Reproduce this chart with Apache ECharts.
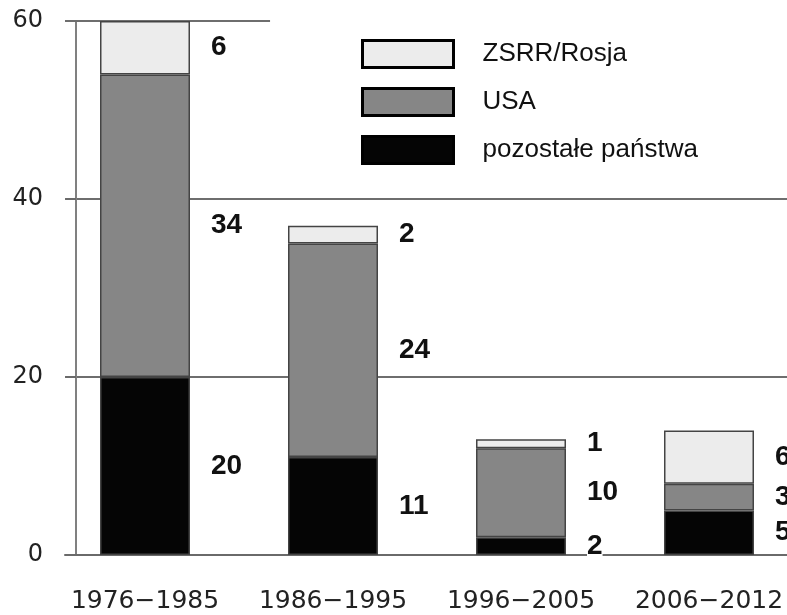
<!DOCTYPE html>
<html>
<head>
<meta charset="utf-8">
<script src="https://cdn.jsdelivr.net/npm/echarts@6/dist/echarts.min.js"></script>
<style>
html,body{margin:0;padding:0;background:#fff;}
#chart{width:787px;height:615px;}
</style>
</head>
<body>
<div id="chart"></div>
<script>
const categories = ['1976\u22121985', '1986\u22121995', '1996\u22122005', '2006\u22122012'];
const seriesNames = ['ZSRR/Rosja', 'USA', 'pozostałe państwa'];
const othersValues = [20, 11, 2, 5];
const usaValues = [34, 24, 10, 3];
const ussrValues = [6, 2, 1, 6];
const yTickValues = [0, 20, 40, 60];
// short rule drawn at the top tick (value 60), spanning the left part of the plot
const topRule = [[0, 60], [0.284, 60]];

const chart = echarts.init(document.getElementById('chart'), null, {renderer: 'canvas'});

const labelCfg = {
  show: true,
  position: 'right',
  distance: 21,
  fontFamily: 'Liberation Sans',
  fontWeight: 'bold',
  fontSize: 28,
  color: '#111',
  backgroundColor: '#fff'
};
const border = {borderColor: '#444', borderWidth: 1.5};

const option = {
  animation: false,
  backgroundColor: '#fff',
  grid: [
    {left: 65, right: 0, top: 21, bottom: 60, outerBoundsMode: 'none', containLabel: false},
    {left: 51, width: 752, top: 21, bottom: 60, outerBoundsMode: 'none', containLabel: false}
  ],
  legend: {
    orient: 'vertical',
    left: 356,
    top: 34,
    itemWidth: 91,
    itemHeight: 27,
    itemGap: 18,
    data: seriesNames,
    icon: 'rect',
    itemStyle: {borderColor: '#000', borderWidth: 3},
    textStyle: {fontFamily: 'Liberation Sans', fontSize: 26, color: '#111', padding: [0, 0, 0, 24]}
  },
  xAxis: [
    {
      gridIndex: 0, type: 'value', min: 0, max: 1,
      axisLine: {show: true, lineStyle: {color: '#6a6a6a', width: 2}},
      axisTick: {show: false}, axisLabel: {show: false}, splitLine: {show: false}
    },
    {
      gridIndex: 1, type: 'category', data: categories,
      axisLine: {show: false}, axisTick: {show: false}, splitLine: {show: false},
      axisLabel: {interval: 0, hideOverlap: false, fontFamily: 'DejaVu Sans', fontSize: 25, color: '#222', margin: 34}
    }
  ],
  yAxis: [
    {
      gridIndex: 0, type: 'value', min: 0, max: 60, interval: 20, offset: -11,
      axisLine: {show: true, lineStyle: {color: '#808080', width: 2}},
      axisTick: {show: true, length: 10, lineStyle: {color: '#6a6a6a', width: 2}},
      axisLabel: {fontFamily: 'DejaVu Sans', fontSize: 24, color: '#222', margin: 33},
      splitLine: {show: true, lineStyle: {color: ['rgba(0,0,0,0)', '#6e6e6e', '#6e6e6e', 'rgba(0,0,0,0)'], width: 2}}
    },
    {
      gridIndex: 1, type: 'value', min: 0, max: 60, interval: 20, show: false,
      splitLine: {show: false}
    }
  ],
  series: [
    {
      type: 'line', xAxisIndex: 0, yAxisIndex: 0, data: topRule,
      symbol: 'none', silent: true, z: 1,
      lineStyle: {color: '#6e6e6e', width: 2}
    },
    {
      name: seriesNames[2], type: 'bar', stack: 'total', barWidth: 90,
      xAxisIndex: 1, yAxisIndex: 1,
      itemStyle: Object.assign({color: '#050505'}, border),
      label: labelCfg,
      data: othersValues
    },
    {
      name: seriesNames[1], type: 'bar', stack: 'total', barWidth: 90,
      xAxisIndex: 1, yAxisIndex: 1,
      itemStyle: Object.assign({color: '#868686'}, border),
      label: labelCfg,
      data: usaValues
    },
    {
      name: seriesNames[0], type: 'bar', stack: 'total', barWidth: 90,
      xAxisIndex: 1, yAxisIndex: 1,
      itemStyle: Object.assign({color: '#ececec'}, border),
      label: labelCfg,
      data: ussrValues
    }
  ]
};
chart.setOption(option);
</script>
</body>
</html>
